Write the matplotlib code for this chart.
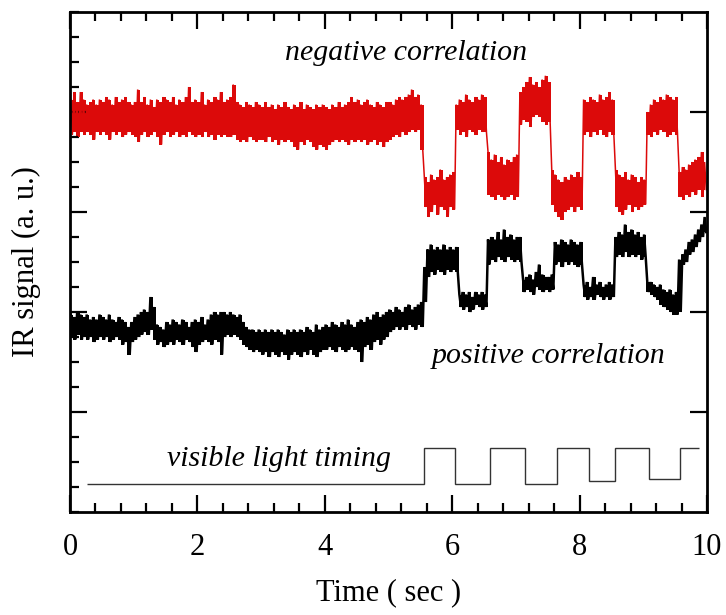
import numpy as np
import matplotlib
matplotlib.use("Agg")
import matplotlib.pyplot as plt

plt.rcParams['font.family'] = ['Liberation Serif', 'DejaVu Serif']
plt.rcParams['mathtext.fontset'] = 'stix'

# ---------------- data (arbitrary units) ----------------
bin_width = 0.05  # s, envelope bins from 0 to 10 s

red_hi = [
    16.5, 16.8, 16.4, 16.8, 16.5, 16.3, 16.4, 16.5, 16.3, 16.5,
    16.4, 16.6, 16.5, 16.3, 16.6, 16.4, 16.5, 16.6, 16.4, 16.3,
    16.4, 16.9, 16.4, 16.6, 16.3, 16.5, 16.2, 16.5, 16.4, 16.6,
    16.5, 16.4, 16.6, 16.3, 16.5, 16.4, 16.6, 17.0, 16.4, 16.5,
    16.4, 16.8, 16.3, 16.5, 16.4, 16.6, 16.5, 16.8, 16.4, 16.5,
    16.6, 17.1, 16.4, 16.3, 16.2, 16.4, 16.3, 16.2, 16.4, 16.3,
    16.2, 16.4, 16.2, 16.3, 16.1, 16.3, 16.2, 16.4, 16.2, 16.1,
    16.3, 16.2, 16.4, 16.1, 16.3, 16.2, 16.1, 16.3, 16.2, 16.3,
    16.2, 16.1, 16.3, 16.2, 16.4, 16.2, 16.3, 16.4, 16.6, 16.4,
    16.5, 16.3, 16.4, 16.5, 16.3, 16.2, 16.4, 16.3, 16.2, 16.4,
    16.4, 16.3, 16.5, 16.6, 16.5, 16.6, 16.7, 16.9, 16.6, 16.7,
    16.3, 13.4, 13.2, 13.5, 13.3, 13.4, 13.7, 13.3, 13.4, 13.5,
    13.6, 16.3, 16.5, 16.4, 16.7, 16.5, 16.4, 16.6, 16.5, 16.7,
    16.6, 14.4, 14.1, 14.3, 14.0, 14.2, 13.9, 14.1, 14.0, 14.2,
    14.3, 16.8, 17.0, 17.2, 17.4, 17.1, 17.2, 17.0, 17.3, 17.45,
    17.2, 13.7, 13.5, 13.3, 13.2, 13.4, 13.3, 13.5, 13.4, 13.6,
    13.4, 16.5, 16.4, 16.6, 16.5, 16.4, 16.7, 16.5, 16.6, 16.8,
    16.5, 13.7, 13.5, 13.4, 13.6, 13.3, 13.5, 13.4, 13.2, 13.4,
    13.3, 16.0, 16.3, 16.5, 16.4, 16.6, 16.5, 16.7, 16.6, 16.5,
    16.6, 13.6, 13.8, 13.7, 13.9, 14.0, 14.1, 14.2, 14.4, 14.0,
]
red_lo = [
    15.1, 15.2, 15.0, 15.2, 15.1, 15.2, 15.1, 14.9, 15.2, 15.1,
    15.2, 15.1, 14.9, 15.2, 15.1, 15.2, 15.0, 15.1, 15.2, 15.1,
    15.0, 14.8, 15.1, 15.2, 15.0, 15.1, 15.2, 15.0, 14.7, 15.1,
    15.2, 15.0, 15.1, 15.2, 15.0, 15.1, 15.0, 15.2, 15.1, 15.0,
    15.1, 15.0, 15.2, 15.0, 15.1, 14.9, 15.1, 15.0, 15.1, 15.0,
    15.0, 15.1, 14.9, 14.8, 14.9, 14.8, 15.0, 14.9, 14.8, 14.9,
    14.9, 14.8, 15.0, 14.8, 14.9, 14.7, 14.9, 14.8, 14.9, 14.8,
    14.6, 14.5, 14.8, 14.7, 14.9, 14.8, 14.6, 14.5, 14.7, 14.6,
    14.5, 14.7, 14.8, 14.9, 14.8, 14.9, 14.8, 14.7, 14.9, 14.8,
    14.9, 14.8, 14.9, 14.7, 14.8, 14.9, 14.7, 14.8, 14.6, 14.8,
    14.9, 15.0, 15.1, 15.0, 15.2, 15.1, 15.2, 15.3, 15.2, 15.3,
    14.5, 12.2, 11.8, 12.0, 12.3, 11.9, 12.2, 12.1, 11.8, 12.2,
    12.1, 15.3, 15.1, 15.2, 15.0, 15.3, 15.2, 15.1, 15.3, 15.2,
    15.2, 12.7, 12.6, 12.5, 12.7, 12.6, 12.5, 12.6, 12.7, 12.5,
    12.6, 15.5, 15.7, 15.6, 15.4, 15.8, 15.9, 15.8, 15.6, 15.5,
    15.6, 12.3, 12.0, 11.8, 11.7, 12.0, 12.1, 12.2, 12.0, 12.2,
    12.1, 15.1, 15.2, 15.0, 15.2, 15.1, 15.3, 15.1, 15.0, 15.2,
    15.1, 12.2, 12.0, 11.9, 12.1, 12.3, 12.0, 12.2, 12.1, 12.2,
    12.3, 15.1, 15.0, 15.2, 15.1, 15.3, 15.2, 15.0, 15.1, 15.2,
    15.1, 12.6, 12.5, 12.7, 12.6, 12.8, 12.7, 12.9, 12.6, 12.9,
]
black_hi = [
    7.9, 7.8, 8.0, 7.9, 7.8, 7.9, 7.7, 7.8, 7.7, 7.9,
    7.8, 7.7, 7.9, 7.7, 7.6, 7.8, 7.7, 7.6, 7.4, 7.6,
    7.8, 7.9, 8.0, 8.1, 8.0, 8.6, 8.2, 7.5, 7.4, 7.3,
    7.6, 7.5, 7.7, 7.6, 7.5, 7.7, 7.6, 7.4, 7.6, 7.7,
    7.6, 7.8, 7.5, 7.7, 7.9, 8.0, 7.9, 8.0, 8.0, 7.9,
    8.0, 7.9, 7.8, 7.9, 7.6, 7.4, 7.3, 7.3, 7.2, 7.3,
    7.2, 7.3, 7.2, 7.3, 7.2, 7.3, 7.2, 7.1, 7.3, 7.2,
    7.3, 7.2, 7.3, 7.2, 7.4, 7.3, 7.2, 7.5, 7.3, 7.4,
    7.5, 7.4, 7.6, 7.5, 7.4, 7.6, 7.5, 7.7, 7.5, 7.4,
    7.6, 7.7, 7.6, 7.8, 7.7, 7.9, 8.0, 7.8, 7.9, 8.0,
    8.1, 8.0, 8.2, 8.1, 8.0, 8.2, 8.3, 8.1, 8.2, 8.3,
    8.4, 9.8, 10.5, 10.7, 10.5, 10.6, 10.5, 10.7, 10.5, 10.6,
    10.5, 10.6, 8.7, 8.8, 8.7, 8.8, 8.6, 8.8, 8.7, 8.8,
    8.7, 10.9, 11.0, 10.9, 11.2, 10.9, 11.3, 11.0, 11.1, 10.9,
    11.0, 11.0, 9.3, 9.4, 9.5, 9.3, 9.6, 9.9, 9.5, 9.4,
    9.4, 9.5, 10.8, 10.7, 10.9, 10.8, 10.7, 10.9, 10.8, 10.7,
    10.8, 9.1, 9.2, 9.0, 9.4, 9.1, 9.2, 9.0, 9.1, 9.2,
    9.1, 11.0, 11.2, 11.1, 11.5, 11.2, 11.3, 11.1, 11.2, 11.0,
    11.1, 9.2, 9.2, 9.1, 9.0, 9.1, 8.9, 8.8, 8.9, 8.7,
    8.8, 10.1, 10.3, 10.5, 10.8, 10.9, 11.1, 11.3, 11.5, 11.8,
]
black_lo = [
    7.0, 6.9, 7.1, 6.9, 7.0, 6.9, 7.0, 6.8, 6.9, 7.0,
    6.9, 7.0, 6.8, 6.9, 7.0, 6.9, 6.7, 6.8, 6.3, 6.8,
    6.9, 7.0, 7.1, 7.2, 7.1, 7.3, 6.9, 6.7, 6.8, 6.6,
    6.7, 6.8, 6.7, 6.9, 6.8, 6.7, 6.9, 6.8, 6.6, 6.4,
    6.7, 6.8, 6.9, 6.8, 6.7, 6.9, 6.8, 6.3, 7.0, 7.1,
    7.0, 7.1, 7.0, 6.9, 6.7, 6.6, 6.5, 6.4, 6.5, 6.4,
    6.3, 6.4, 6.2, 6.4, 6.3, 6.2, 6.4, 6.3, 6.1, 6.3,
    6.4, 6.3, 6.2, 6.4, 6.3, 6.5, 6.3, 6.2, 6.4, 6.5,
    6.5, 6.6, 6.5, 6.4, 6.6, 6.5, 6.4, 6.5, 6.6, 6.5,
    6.4, 6.0, 6.6, 6.7, 6.5, 6.8, 6.9, 6.7, 6.9, 7.0,
    7.2, 7.3, 7.4, 7.3, 7.4, 7.3, 7.5, 7.4, 7.3, 7.5,
    7.4, 8.4, 9.4, 9.6, 9.5, 9.7, 9.6, 9.5, 9.7, 9.6,
    9.7, 9.6, 8.2, 8.1, 8.2, 8.0, 8.1, 8.3, 8.2, 8.1,
    8.2, 9.9, 10.1, 10.0, 10.2, 10.1, 10.0, 10.2, 10.1, 10.0,
    10.1, 10.0, 8.8, 8.9, 8.8, 8.7, 9.0, 8.9, 8.8, 8.9,
    8.8, 8.9, 9.9, 10.0, 9.8, 10.0, 9.9, 10.0, 9.9, 9.8,
    9.9, 8.6, 8.5, 8.6, 8.5, 8.7, 8.6, 8.5, 8.6, 8.5,
    8.6, 10.2, 10.3, 10.2, 10.4, 10.2, 10.3, 10.2, 10.3, 10.1,
    10.2, 8.8, 8.7, 8.6, 8.5, 8.3, 8.2, 8.1, 8.0, 7.9,
    7.9, 8.0, 9.9, 10.0, 10.3, 10.4, 10.6, 10.8, 11.0, 11.2,
]

timing_edges = [0.27, 5.55, 6.05, 6.59, 7.14, 7.65, 8.15, 8.56, 9.09, 9.57, 9.87]
timing_levels = [1.12, 2.56, 1.12, 2.56, 1.12, 2.56, 1.23, 2.56, 1.31, 2.56]

xticks = [0, 2, 4, 6, 8, 10]
xtick_labels = ["0", "2", "4", "6", "8", "10"]

# ---------------- figure ----------------
W, H = 726, 615
fig = plt.figure(figsize=(W / 100, H / 100), dpi=100)
ax = fig.add_axes([70 / W, 1 - 512 / H, (707 - 70) / W, (512 - 12) / H])


def zigzag(hi, lo):
    n = len(hi)
    t0 = np.arange(n) * bin_width
    xs = np.empty(2 * n)
    ys = np.empty(2 * n)
    xs[0::2] = t0 + bin_width * 0.25
    xs[1::2] = t0 + bin_width * 0.75
    ys[0::2] = hi
    ys[1::2] = lo
    return xs, ys, t0 + bin_width * 0.5


RED = '#dc0a0a'
xs, ys, tc = zigzag(red_hi, red_lo)
ax.fill_between(tc, red_lo, red_hi, step='mid', color=RED, lw=0)
ax.plot(xs, ys, color=RED, lw=1.1, solid_joinstyle='miter')

xs, ys, tc = zigzag(black_hi, black_lo)
ax.fill_between(tc, black_lo, black_hi, step='mid', color='black', lw=0)
ax.plot(xs, ys, color='black', lw=1.8, solid_joinstyle='miter')

ax.stairs(timing_levels, timing_edges, baseline=None, color='#333333', lw=1.0)

ax.set_xlim(0, 10)
ax.set_ylim(0, 20)
ax.set_xticks(xticks)
ax.set_xticklabels(xtick_labels)
ax.set_xticks(np.arange(0, 10.01, 0.4), minor=True)
ax.set_yticks([4, 8, 12, 16])
ax.set_yticks(np.arange(0, 20.01, 1), minor=True)
ax.set_yticklabels([])

ax.tick_params(which='both', direction='in', top=True, right=True, width=1.6,
               labelsize=22, pad=15)
ax.tick_params(which='major', length=12.5)
ax.tick_params(which='minor', length=6.5)
ax.tick_params(axis='y', which='minor', right=False)
for s in ax.spines.values():
    s.set_linewidth(2.0)

ax.set_xlabel('Time ( sec )', fontsize=22, labelpad=12)
ax.set_ylabel('IR signal (a. u.)', fontsize=22, labelpad=6)

ax.text(5.27, 18.06, 'negative correlation', style='italic', fontsize=21.5,
        ha='center', va='baseline')
ax.text(7.51, 5.97, 'positive correlation', style='italic', fontsize=21.5,
        ha='center', va='baseline')
ax.text(3.285, 1.86, 'visible light timing', style='italic', fontsize=21.5,
        ha='center', va='baseline')

fig.savefig('out.png', dpi=100)
